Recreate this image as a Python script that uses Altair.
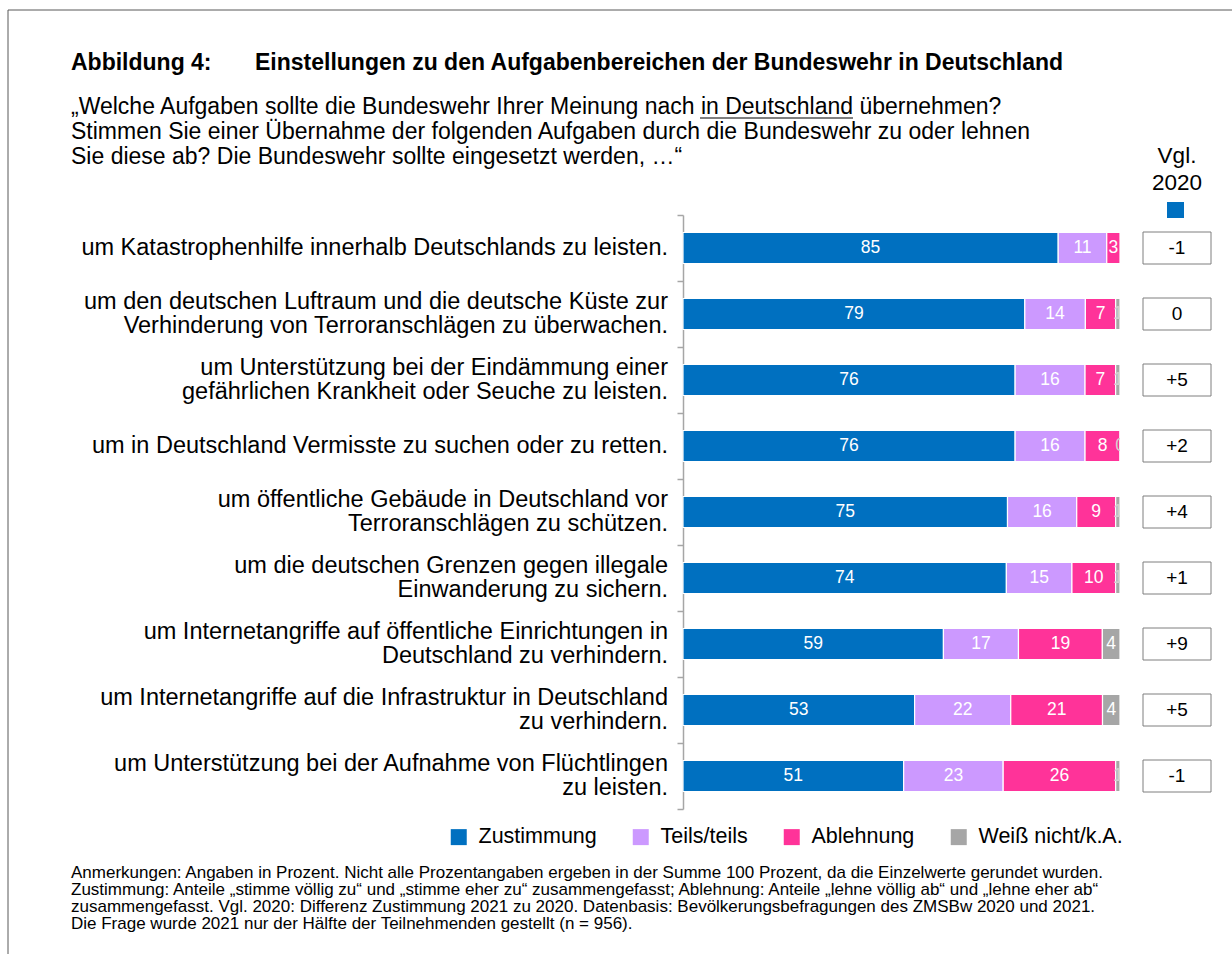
import altair as alt
import pandas as pd

F = "Liberation Sans"

tasks = [
    "um Katastrophenhilfe innerhalb Deutschlands zu leisten.",
    "um den deutschen Luftraum und die deutsche Küste zur\nVerhinderung von Terroranschlägen zu überwachen.",
    "um Unterstützung bei der Eindämmung einer\ngefährlichen Krankheit oder Seuche zu leisten.",
    "um in Deutschland Vermisste zu suchen oder zu retten.",
    "um öffentliche Gebäude in Deutschland vor\nTerroranschlägen zu schützen.",
    "um die deutschen Grenzen gegen illegale\nEinwanderung zu sichern.",
    "um Internetangriffe auf öffentliche Einrichtungen in\nDeutschland zu verhindern.",
    "um Internetangriffe auf die Infrastruktur in Deutschland\nzu verhindern.",
    "um Unterstützung bei der Aufnahme von Flüchtlingen\nzu leisten.",
]
zustimmung = [85, 79, 76, 76, 75, 74, 59, 53, 51]
teils = [11, 14, 16, 16, 16, 15, 17, 22, 23]
ablehnung = [3, 7, 7, 8, 9, 10, 19, 21, 26]
weiss = [None, 1, 1, 0, 1, 1, 4, 4, 1]
vgl2020 = ["-1", "0", "+5", "+2", "+4", "+1", "+9", "+5", "-1"]
categories = ["Zustimmung", "Teils/teils", "Ablehnung", "Weiß nicht/k.A."]
colors = ["#0070C0", "#CC99FF", "#FF3399", "#A6A6A6"]

title_a = "Abbildung 4:"
title_b = "Einstellungen zu den Aufgabenbereichen der Bundeswehr in Deutschland"
question = [
    "„Welche Aufgaben sollte die Bundeswehr Ihrer Meinung nach in Deutschland übernehmen?",
    "Stimmen Sie einer Übernahme der folgenden Aufgaben durch die Bundeswehr zu oder lehnen",
    "Sie diese ab? Die Bundeswehr sollte eingesetzt werden, …“",
]
notes = [
    "Anmerkungen: Angaben in Prozent. Nicht alle Prozentangaben ergeben in der Summe 100 Prozent, da die Einzelwerte gerundet wurden.",
    "Zustimmung: Anteile „stimme völlig zu“ und „stimme eher zu“ zusammengefasst; Ablehnung: Anteile „lehne völlig ab“ und „lehne eher ab“",
    "zusammengefasst. Vgl. 2020: Differenz Zustimmung 2021 zu 2020. Datenbasis: Bevölkerungsbefragungen des ZMSBw 2020 und 2021.",
    "Die Frage wurde 2021 nur der Hälfte der Teilnehmenden gestellt (n = 956).",
]

rows = []
for i, t in enumerate(tasks):
    for j, (cat, vals) in enumerate(zip(categories, [zustimmung, teils, ablehnung, weiss])):
        v = vals[i]
        if v is None:
            continue
        rows.append({"task": t, "category": cat, "value": v, "ord": j})
df = pd.DataFrame(rows)
df_tasks = pd.DataFrame({"task": tasks, "diff": vgl2020})

# plot area placement (pixels)
L, T, W, H = 683, 215, 437, 594
TOTW, TOTH = 1232, 954

yaxis = alt.Axis(title=None, labels=False, domain=True, domainColor="#A6A6A6", domainWidth=1.5,
                 ticks=True, tickBand="extent", tickSize=6, tickColor="#A6A6A6", tickWidth=1.5,
                 grid=False)
yenc = alt.Y("task:N", sort=tasks, scale=alt.Scale(domain=tasks, paddingInner=0, paddingOuter=0), axis=yaxis)
xscale = alt.Scale(domain=[0, 1], nice=False)

stacked = alt.Chart(df).transform_stack(
    stack="value", groupby=["task"], sort=[alt.SortField("ord", order="ascending")],
    as_=["x0", "x1"], offset="normalize",
)

bars = stacked.mark_bar(size=31, stroke="white", strokeWidth=1.2).encode(
    x=alt.X("x0:Q", scale=xscale, axis=None),
    x2="x1:Q",
    y=yenc,
    color=alt.Color("category:N", scale=alt.Scale(domain=categories, range=colors),
                    legend=alt.Legend(orient="none", legendX=-235, legendY=611, direction="horizontal",
                                      title=None, symbolType="square", symbolSize=256, symbolStrokeWidth=0,
                                      symbolOpacity=1, labelFontSize=21.5, labelFont=F, labelColor="black",
                                      columnPadding=33, labelOffset=9)),
)

vlabels = stacked.transform_calculate(mid="(datum.x0 + datum.x1) / 2").mark_text(
    font=F, fontSize=17.5, clip=True, baseline="middle", align="center"
).encode(
    x=alt.X("mid:Q", scale=xscale, axis=None),
    y=yenc,
    text=alt.Text("value:Q", format="d"),
    color=alt.condition("datum.category == 'Weiß nicht/k.A.' && datum.value <= 1",
                        alt.value("#d0d0d0"), alt.value("white")),
)

LH = 24
tl_single = alt.Chart(df_tasks).transform_filter("indexof(datum.task, '\\n') < 0").mark_text(
    font=F, fontSize=23.5, align="right", baseline="middle", lineBreak="\n", lineHeight=LH, color="black"
).encode(x=alt.value(-15), y=yenc, text="task:N")
tl_double = alt.Chart(df_tasks).transform_filter("indexof(datum.task, '\\n') >= 0").mark_text(
    font=F, fontSize=23.5, align="right", baseline="middle", lineBreak="\n", lineHeight=LH, color="black",
    dy=-LH / 2,
).encode(x=alt.value(-15), y=yenc, text="task:N")

boxes = alt.Chart(df_tasks).mark_bar(size=32, orient="horizontal", fill="white", stroke="#7f7f7f", strokeWidth=1).encode(
    x=alt.value(460), x2=alt.value(528), y=yenc
)
boxtext = alt.Chart(df_tasks).mark_text(font=F, fontSize=19, color="black", baseline="middle").encode(
    x=alt.value(494), y=yenc, text="diff:N"
)

one = pd.DataFrame({"a": [0]})


def txt(s, x, y, size, bold=False, align="left"):
    return alt.Chart(one).mark_text(
        text=s, font=F, fontSize=size, fontWeight="bold" if bold else "normal",
        align=align, baseline="alphabetic", color="black"
    ).encode(x=alt.value(x), y=alt.value(y))


layers = []
frame = alt.Chart(one).mark_rect(fillOpacity=0, stroke="#595959", strokeWidth=1).encode(
    x=alt.value(8 - L), x2=alt.value(TOTW + 20 - L), y=alt.value(10 - T), y2=alt.value(TOTH + 20 - T)
)
layers.append(frame)
layers.append(txt(title_a, 71 - L, 70 - T, 23, bold=True))
layers.append(txt(title_b, 255 - L, 70 - T, 23, bold=True))
for k, line in enumerate(question):
    layers.append(txt(line, 71 - L, 114 - T + 25 * k, 23))
underline = alt.Chart(one).mark_rule(color="black", strokeWidth=1.2).encode(
    x=alt.value(700 - L), x2=alt.value(853 - L), y=alt.value(118 - T)
)
layers.append(underline)
layers.append(txt("Vgl.", 494, 163 - T, 22.5, align="center"))
layers.append(txt("2020", 494, 190 - T, 22.5, align="center"))
sq = alt.Chart(one).mark_rect(color="#0070C0").encode(
    x=alt.value(1167 - L), x2=alt.value(1184 - L), y=alt.value(202 - T), y2=alt.value(218 - T)
)
layers.append(sq)
for k, line in enumerate(notes):
    layers.append(txt(line, 71 - L, 878 - T + 17 * k, 17))

chart = alt.layer(*layers, tl_single, tl_double, bars, vlabels, boxes, boxtext).properties(
    width=W, height=H,
    autosize=alt.AutoSizeParams(type="none"),
    padding={"left": L, "top": T, "right": TOTW - L - W, "bottom": TOTH - T - H},
    background="white",
).configure(font=F).configure_view(stroke=None)

chart.save("out.html", embed_options={"renderer": "svg", "actions": False})
